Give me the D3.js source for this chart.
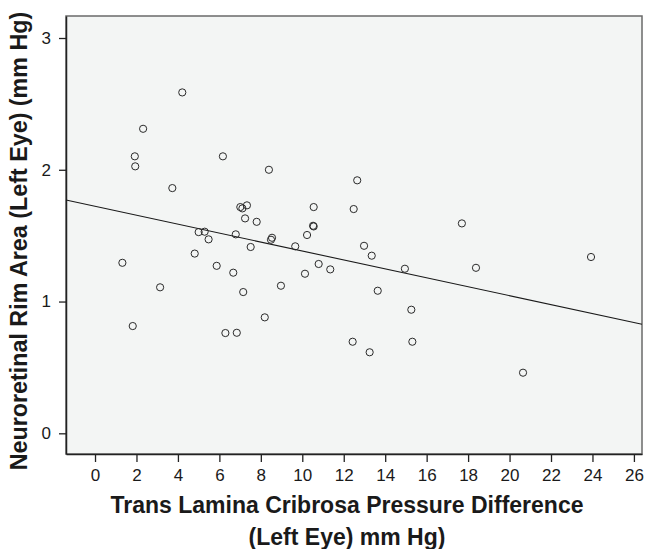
<!DOCTYPE html>
<html>
<head>
<meta charset="utf-8">
<script src="https://cdn.jsdelivr.net/npm/d3@7"></script>
<style>
  html, body { margin: 0; padding: 0; background: #fff; }
  text { font-family: "Liberation Sans", Arial, sans-serif; }
</style>
</head>
<body>
<div id="chart-wrap"></div>
<script>
// trans lamina cribrosa pressure difference (mm Hg)
const tlcpd = [
  4.21, 2.32, 1.92, 1.94, 6.17, 8.39, 3.73, 7.01, 7.11, 7.33,
  7.24, 7.80, 5.00, 5.29, 6.79, 5.48, 8.54, 8.49, 7.51, 4.81,
  1.32, 5.87, 6.67, 3.14, 7.15, 8.97, 8.19, 1.82, 6.29, 6.84,
  12.65, 10.55, 12.48, 17.70, 10.52, 10.55, 10.23, 9.66, 12.98, 13.35,
  10.79, 11.35, 10.13, 14.95, 18.38, 13.64, 15.26, 12.43, 15.31, 13.25,
  23.93, 20.65
];
// neuroretinal rim area
const rimArea = [
  2.587, 2.311, 2.102, 2.026, 2.102, 2.000, 1.861, 1.717, 1.707, 1.730,
  1.631, 1.605, 1.527, 1.530, 1.510, 1.472, 1.484, 1.469, 1.414, 1.364,
  1.294, 1.271, 1.219, 1.108, 1.072, 1.120, 0.880, 0.814, 0.761, 0.763,
  1.920, 1.717, 1.702, 1.593, 1.575, 1.570, 1.505, 1.419, 1.423, 1.348,
  1.285, 1.244, 1.211, 1.249, 1.256, 1.082, 0.938, 0.695, 0.695, 0.615,
  1.338, 0.460
];
const xTicks = [0, 2, 4, 6, 8, 10, 12, 14, 16, 18, 20, 22, 24, 26];
const yTicks = [0, 1, 2, 3];
// fit line
const fitIntercept = 1.7225;
const fitSlope = -0.0339;

const width = 646;
const height = 549;
const plot = {left: 66, right: 642, top: 16, bottom: 454};

const data = tlcpd.map((d, i) => ({x: d, y: rimArea[i]}));

const svg = d3.select("#chart-wrap")
  .append("svg")
  .attr("width", width)
  .attr("height", height);

const x = d3.scaleLinear()
  .domain([-1.40, 26.39])
  .range([plot.left, plot.right]);

const y = d3.scaleLinear()
  .domain([-0.157, 3.167])
  .range([plot.bottom, plot.top]);

// plot background
svg.append("rect")
  .attr("x", plot.left)
  .attr("y", plot.top)
  .attr("width", plot.right - plot.left)
  .attr("height", plot.bottom - plot.top)
  .attr("fill", "#f3f5f4")
  .attr("stroke", "#6a6a6a")
  .attr("stroke-width", 1.5);

// x axis
const xAxis = svg.append("g")
  .attr("transform", "translate(0," + plot.bottom + ")")
  .call(d3.axisBottom(x).tickValues(xTicks).tickFormat(d3.format("d"))
    .tickSizeInner(8).tickSizeOuter(0).tickPadding(7));
xAxis.select(".domain").attr("stroke", "#222").attr("stroke-width", 1.5);
xAxis.selectAll(".tick line").attr("stroke", "#222").attr("stroke-width", 1.3);
xAxis.selectAll(".tick text")
  .attr("font-size", 17)
  .attr("font-family", "Liberation Sans, Arial, sans-serif")
  .attr("fill", "#1a1a1a");

// y axis
const yAxis = svg.append("g")
  .attr("transform", "translate(" + plot.left + ",0)")
  .call(d3.axisLeft(y).tickValues(yTicks).tickFormat(d3.format("d"))
    .tickSizeInner(7).tickSizeOuter(0).tickPadding(8));
yAxis.select(".domain").attr("stroke", "#222").attr("stroke-width", 1.5);
yAxis.selectAll(".tick line").attr("stroke", "#222").attr("stroke-width", 1.3);
yAxis.selectAll(".tick text")
  .attr("font-size", 17)
  .attr("font-family", "Liberation Sans, Arial, sans-serif")
  .attr("fill", "#1a1a1a");

// fit line
const xd = x.domain();
svg.append("path")
  .datum(xd.map(v => ({x: v, y: fitIntercept + fitSlope * v})))
  .attr("fill", "none")
  .attr("stroke", "#1a1a1a")
  .attr("stroke-width", 1.1)
  .attr("d", d3.line().x(d => x(d.x)).y(d => y(d.y)));

// points
svg.append("g")
  .selectAll("circle")
  .data(data)
  .join("circle")
  .attr("cx", d => x(d.x))
  .attr("cy", d => y(d.y))
  .attr("r", 3.6)
  .attr("fill", "none")
  .attr("stroke", "#2a2a2a")
  .attr("stroke-width", 1);

// axis titles
const xTitle = svg.append("text")
  .attr("x", 347)
  .attr("text-anchor", "middle")
  .attr("font-size", 23)
  .attr("font-weight", "bold")
  .attr("fill", "#1a1a1a");
xTitle.append("tspan").attr("x", 347).attr("y", 513).text("Trans Lamina Cribrosa Pressure Difference");
xTitle.append("tspan").attr("x", 347).attr("y", 545).text("(Left Eye) mm Hg)");

svg.append("text")
  .attr("transform", "translate(27,241) rotate(-90)")
  .attr("text-anchor", "middle")
  .attr("font-size", 23.3)
  .attr("font-weight", "bold")
  .attr("fill", "#1a1a1a")
  .text("Neuroretinal Rim Area (Left Eye) (mm Hg)");
</script>
</body>
</html>
